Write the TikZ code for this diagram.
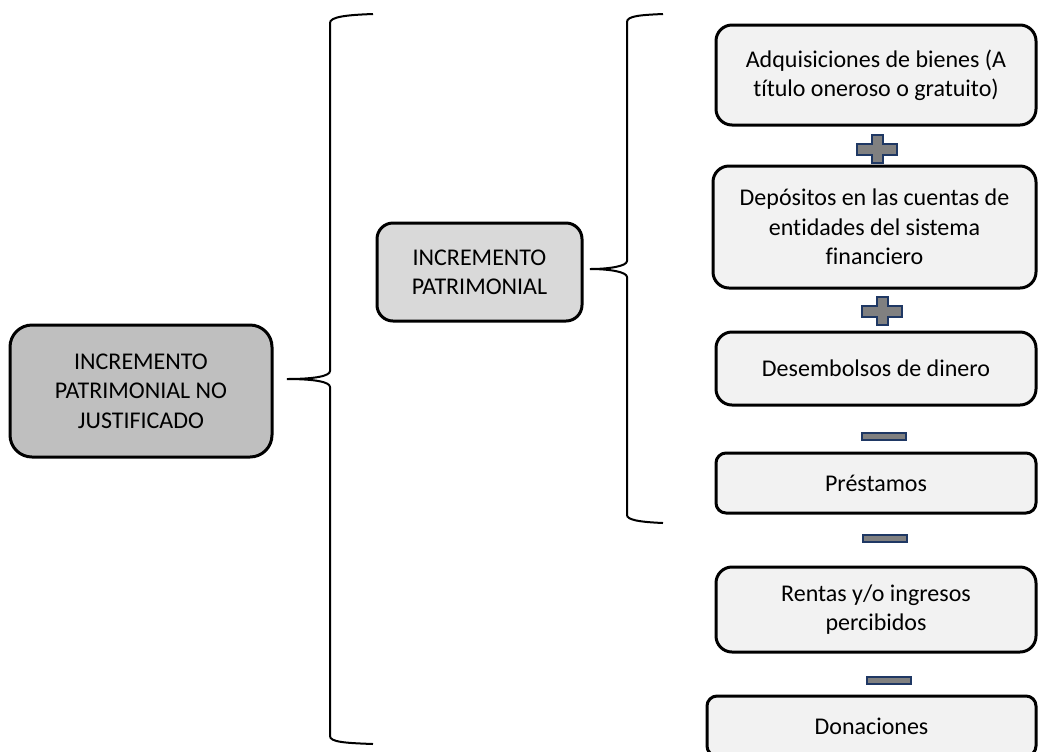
\documentclass[tikz,border=0pt]{standalone}
\usepackage{fontspec}
\setmainfont[Ligatures=NoCommon]{Carlito}
\usepackage{xcolor}
\usepackage{tikz}
\usetikzlibrary{positioning}

\definecolor{mainfill}{RGB}{191,191,191}
\definecolor{subfill}{RGB}{217,217,217}
\definecolor{itemfill}{RGB}{242,242,242}
\definecolor{signfill}{RGB}{128,128,128}
\definecolor{signline}{RGB}{31,56,100}

\begin{document}
\begin{tikzpicture}[
    x=0.5pt, y=-0.5pt,
    box/.style={rectangle, draw, line width=1.5pt, rounded corners=8pt, align=center, inner sep=0pt, font=\fontsize{12}{14.7}\selectfont},
    mainbox/.style={box, fill=mainfill, rounded corners=11pt},
    subbox/.style={box, fill=subfill},
    itembox/.style={box, fill=itemfill},
    brace/.style={line width=1pt},
    sign/.style={fill=signfill, draw=signline, line width=1pt},
    plussign/.pic={\path[sign] (-20,-5.5) -- (-5.5,-5.5) -- (-5.5,-14) -- (5.5,-14) -- (5.5,-5.5) -- (20,-5.5) -- (20,5.5) -- (5.5,5.5) -- (5.5,14) -- (-5.5,14) -- (-5.5,5.5) -- (-20,5.5) -- cycle;},
    minussign/.pic={\path[sign] (-22,-3.5) rectangle (22,3.5);}
]
\useasboundingbox (0,0) rectangle (1038,751);

\node[mainbox, minimum width=131pt, minimum height=66pt] (total) at (141,391) {INCREMENTO\\PATRIMONIAL NO\\JUSTIFICADO};
\node[subbox, minimum width=102.5pt, minimum height=49pt] (patrimonio) at (479.5,272) {INCREMENTO\\PATRIMONIAL};

% components
\node[itembox, minimum width=160pt, minimum height=50pt] (bienes) at (876,75) {Adquisiciones de bienes (A\\título oneroso o gratuito)};
\node[itembox, minimum width=161.5pt, minimum height=61pt] (depositos) at (874.5,227) {Depósitos en las cuentas de\\entidades del sistema\\financiero};
\node[itembox, minimum width=160pt, minimum height=36.5pt] (desembolsos) at (876,368.5) {Desembolsos de dinero};
\node[itembox, minimum width=160pt, minimum height=30pt, rounded corners=5pt] (prestamos) at (876,483) {Préstamos};
\node[itembox, minimum width=160pt, minimum height=42.5pt] (rentas) at (876,609.5) {Rentas y/o ingresos\\percibidos};
\node[itembox, minimum width=164.5pt, minimum height=30pt, rounded corners=5pt] (donaciones) at (871.5,726) {Donaciones};

\pic at (877,149) {plussign};
\pic at (882,311) {plussign};
\pic at (884,436) {minussign};
\pic at (885,538) {minussign};
\pic at (889,680) {minussign};

% braces
\coordinate (outertop) at (373,14);
\coordinate (outertip) at (287,379);
\coordinate (outerbot) at (373,744);
\draw[brace] (outertop) .. controls (345,15) and (330,17) .. (330,23) -- (330,371) .. controls (330,376) and (315,379) .. (outertip) .. controls (315,379) and (330,382) .. (330,387) -- (330,736) .. controls (330,742) and (345,743) .. (outerbot);

\coordinate (innertop) at (663,14);
\coordinate (innertip) at (590,269);
\coordinate (innerbot) at (663,523);
\draw[brace] (innertop) .. controls (640,15) and (627,16) .. (627,22) -- (627,261) .. controls (627,266) and (610,269) .. (innertip) .. controls (610,269) and (627,272) .. (627,277) -- (627,515) .. controls (627,520) and (640,522) .. (innerbot);

\end{tikzpicture}
\end{document}
